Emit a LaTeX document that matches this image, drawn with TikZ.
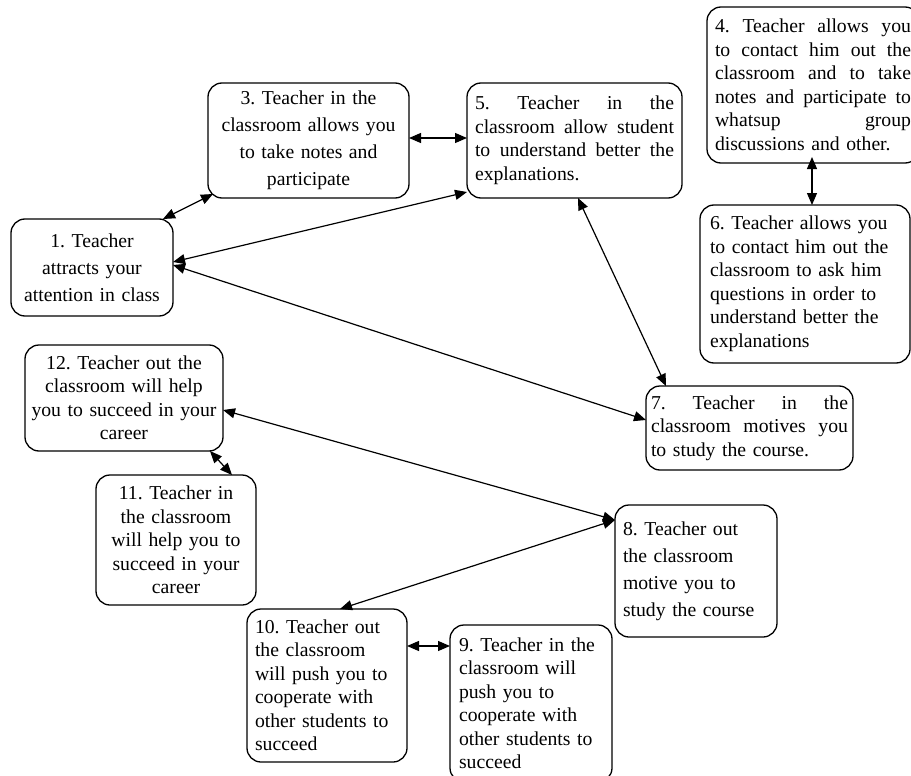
\documentclass[tikz,border=0pt]{standalone}
\usepackage{fontspec}
\setmainfont{Liberation Serif}
\usetikzlibrary{arrows.meta}
\newcommand\jst[2]{\leavevmode\hbox to #1{#2}}
\begin{document}
\begin{tikzpicture}[x=1pt,y=-1pt,
  box/.style={draw, rounded corners=14pt, line width=1.3pt, inner sep=0pt, outer sep=0pt,
    font=\fontsize{19.7pt}{23.5pt}\selectfont\frenchspacing},
  wide/.style={font=\fontsize{19.7pt}{27pt}\selectfont\frenchspacing},
  arr/.style={{Triangle[length=12pt,width=10pt]}-{Triangle[length=12pt,width=10pt]}, line width=1.2pt}]
\clip (0,0) rectangle (911,776);
\fill[white] (0,0) rectangle (911,776);

\node[box, wide, align=center, minimum width=162pt, minimum height=97pt, text width=160pt] (b1) at (92,267.5)
  {\mbox{1. Teacher}\\\mbox{attracts your}\\\mbox{attention in class}};
\node[box, wide, align=center, minimum width=201pt, minimum height=115pt, text width=199pt] (b3) at (308.5,140.5)
  {\mbox{3. Teacher in the}\\\mbox{classroom allows you}\\\mbox{to take notes and}\\\mbox{participate}};
\node[box, align=left, minimum width=215pt, minimum height=115pt, text width=199pt] (b5) at (574.5,140.5)
  {\jst{199pt}{5.\hfill Teacher\hfill in\hfill the}\\\jst{199pt}{classroom\hfill allow\hfill student}\\\jst{199pt}{to\hfill understand\hfill better\hfill the}\\\mbox{explanations.}};
\node[box, align=left, minimum width=212pt, minimum height=156pt, text width=196pt] (b4) at (813,85)
  {\jst{196pt}{4.\hfill Teacher\hfill allows\hfill you}\\\jst{196pt}{to\hfill contact\hfill him\hfill out\hfill the}\\\jst{196pt}{classroom\hfill and\hfill to\hfill take}\\\jst{196pt}{notes\hfill and\hfill participate\hfill to}\\\jst{196pt}{whatsup\hfill group}\\\mbox{discussions and other.}};
\node[box, align=left, minimum width=210pt, minimum height=158pt, text width=190pt] (b6) at (805,284)
  {\mbox{6. Teacher allows you}\\\mbox{to contact him out the}\\\mbox{classroom to ask him}\\\mbox{questions in order to}\\\mbox{understand better the}\\\mbox{explanations}};
\node[box, align=left, minimum width=207pt, minimum height=84pt, text width=197pt] (b7) at (749.5,428)
  {\jst{197pt}{7.\hfill Teacher\hfill in\hfill the}\\\jst{197pt}{classroom\hfill motives\hfill you}\\\mbox{to study the course.}};
\node[box, align=center, minimum width=198pt, minimum height=106pt, text width=196pt] (b12) at (124,398)
  {\mbox{12. Teacher out the}\\\mbox{classroom will help}\\\mbox{you to succeed in your}\\\mbox{career}};
\node[box, align=center, minimum width=160pt, minimum height=130pt, text width=158pt] (b11) at (176,540)
  {\mbox{11. Teacher in}\\\mbox{the classroom}\\\mbox{will help you to}\\\mbox{succeed in your}\\\mbox{career}};
\node[box, wide, align=left, minimum width=162pt, minimum height=132pt, text width=146pt] (b8) at (696,571)
  {\mbox{8. Teacher out}\\\mbox{the classroom}\\\mbox{motive you to}\\\mbox{study the course}};
\node[box, align=left, minimum width=160pt, minimum height=153pt, text width=144pt] (b10) at (327,685.5)
  {\mbox{10. Teacher out}\\\mbox{the classroom}\\\mbox{will push you to}\\\mbox{cooperate with}\\\mbox{other students to}\\\mbox{succeed}};
\node[box, align=left, minimum width=162pt, minimum height=157pt, text width=144pt] (b9) at (531,703.5)
  {\mbox{9. Teacher in the}\\\mbox{classroom will}\\\mbox{push you to}\\\mbox{cooperate with}\\\mbox{other students to}\\\mbox{succeed}};

\draw[arr] ([xshift=-10pt]b1.north east) -- ([xshift=5pt,yshift=4pt]b3.south west);
\draw[arr] ([yshift=2.5pt]b3.east) -- ([yshift=2.5pt]b5.west);
\draw[arr] ([yshift=6pt]b5.south west) -- ([yshift=5.5pt]b1.east);
\draw[arr] ([yshift=2.5pt]b1.east) -- ([yshift=8pt]b7.west);
\draw[arr] ([xshift=3.5pt]b5.south) -- ([xshift=20pt]b7.north west);
\draw[arr] ([xshift=-1pt,yshift=6pt]b4.south) -- ([xshift=7pt]b6.north);
\draw[arr] ([yshift=-12pt]b12.east) -- ([yshift=-15pt]b8.north west);
\draw[arr] ([yshift=-15pt]b8.north west) -- ([xshift=13pt]b10.north);
\draw[arr] ([xshift=-13pt]b12.south east) -- ([xshift=-24pt]b11.north east);
\draw[arr] ([yshift=-37pt]b10.north east) -- ([yshift=-21pt]b9.north west);
\end{tikzpicture}
\end{document}
